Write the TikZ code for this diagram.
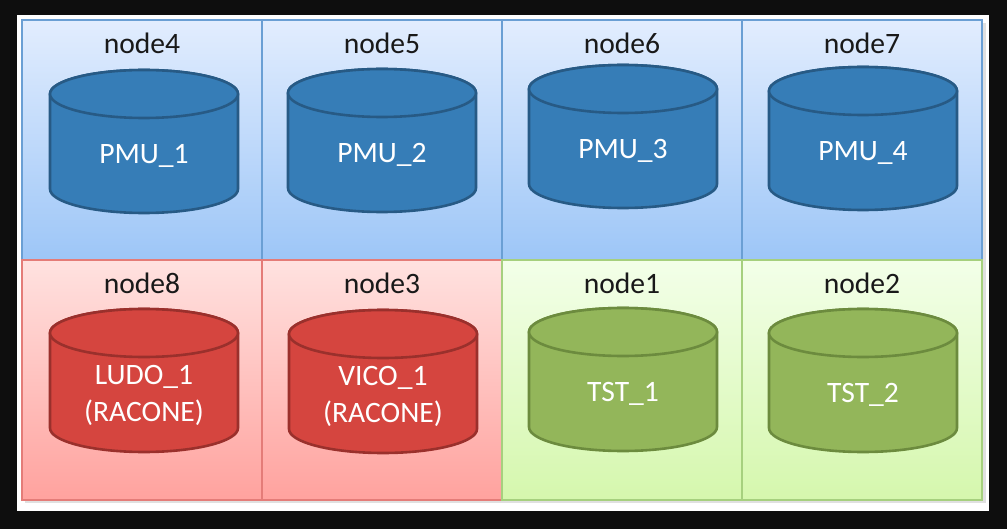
\documentclass[tikz,border=0pt]{standalone}
\usepackage{fontspec}
\setmainfont{Carlito}
\definecolor{bg}{HTML}{0E0E0E}
\definecolor{bluetop}{HTML}{E2EDFE}
\definecolor{bluebot}{HTML}{9DC6F7}
\definecolor{blueline}{HTML}{6A9FD4}
\definecolor{bluefill}{HTML}{367DB7}
\definecolor{blueedge}{HTML}{275A85}
\definecolor{redtop}{HTML}{FFE2E0}
\definecolor{redbot}{HTML}{FFA29E}
\definecolor{redline}{HTML}{E47C78}
\definecolor{redfill}{HTML}{D5453F}
\definecolor{rededge}{HTML}{9A302C}
\definecolor{greentop}{HTML}{F3FFE9}
\definecolor{greenbot}{HTML}{D5F7AD}
\definecolor{greenline}{HTML}{A6D07E}
\definecolor{greenfill}{HTML}{93B65A}
\definecolor{greenedge}{HTML}{6C8B3E}
\tikzset{
  cell/.style={draw=#1line,line width=0.6pt,top color=#1top,bottom color=#1bot},
  cyl/.style={fill=#1fill,draw=#1edge,line width=1.3pt}
}
\begin{document}
\begin{tikzpicture}[x=0.5pt,y=-0.5pt,every node/.style={font=\fontsize{14.8}{18.5}\selectfont,inner sep=0pt}]
\fill[bg] (0,0) rectangle (1007,529);
\fill[white] (17,15) rectangle (989,511);
\fill[black!12] (25,23) rectangle (986,503);
\foreach \i/\c/\x/\y/\cx/\cy/\t in {4/blue/22/20/144/70/PMU\_1, 5/blue/262/20/382/69/PMU\_2,
    6/blue/502/20/623/65/PMU\_3, 7/blue/742/20/863/67/PMU\_4,
    8/red/22/260/144/309/LUDO\_1\\(RACONE), 3/red/262/260/383/310/VICO\_1\\(RACONE),
    1/green/502/260/623/308/TST\_1, 2/green/742/260/863/309/TST\_2}{
  \draw[cell=\c] (\x,\y) rectangle ++(240,240);
  \node[anchor=base,text=black!90] (n\i) at (\x+120,\y+34) {node\i};
  \filldraw[cyl=\c] (\cx-94,\cy+24) -- (\cx-94,\cy+119)
    arc[start angle=180,end angle=0,x radius=94,y radius=24] -- (\cx+94,\cy+24)
    arc[start angle=0,end angle=-180,x radius=94,y radius=24] -- cycle;
  \draw[cyl=\c] (\cx,\cy+24) ellipse[x radius=94,y radius=24];
  \node[align=center,text=white] (d\i) at (\cx,\cy+86) {\t};
}
\end{tikzpicture}
\end{document}
